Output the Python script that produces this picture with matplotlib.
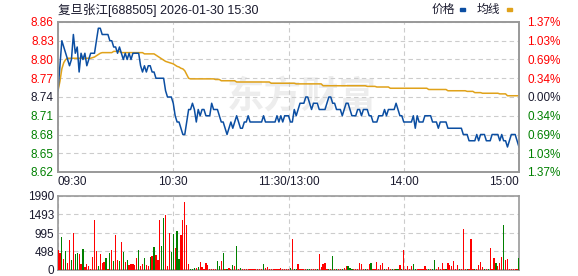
import matplotlib
matplotlib.use("Agg")
import matplotlib.pyplot as plt
from matplotlib.patches import Rectangle

plt.rcParams["font.family"] = ["Liberation Sans", "Noto Sans CJK SC", "DejaVu Sans"]

TITLE = "复旦张江[688505] 2026-01-30 15:30"
PREV_CLOSE = 8.74

# minute prices 09:30 .. 11:30, 13:01 .. 15:00 (241 points)
price = [
    8.75, 8.79, 8.83, 8.82, 8.81, 8.80, 8.79, 8.80, 8.84, 8.81,
    8.82, 8.78, 8.81, 8.80, 8.81, 8.79, 8.80, 8.81, 8.81, 8.81,
    8.83, 8.85, 8.85, 8.84, 8.84, 8.84, 8.84, 8.83, 8.83, 8.82,
    8.82, 8.81, 8.82, 8.81, 8.80, 8.81, 8.80, 8.81, 8.80, 8.81,
    8.81, 8.81, 8.81, 8.79, 8.78, 8.79, 8.78, 8.79, 8.79, 8.78,
    8.78, 8.77, 8.77, 8.77, 8.77, 8.77, 8.75, 8.74, 8.74, 8.74,
    8.73, 8.71, 8.70, 8.70, 8.69, 8.68, 8.68, 8.70, 8.72, 8.72,
    8.73, 8.72, 8.70, 8.72, 8.71, 8.72, 8.72, 8.71, 8.71, 8.71,
    8.73, 8.72, 8.72, 8.72, 8.71, 8.70, 8.70, 8.69, 8.68, 8.69,
    8.70, 8.69, 8.70, 8.71, 8.70, 8.69, 8.69, 8.70, 8.70, 8.71,
    8.70, 8.70, 8.70, 8.70, 8.70, 8.70, 8.70, 8.71, 8.70, 8.70,
    8.70, 8.70, 8.70, 8.70, 8.71, 8.70, 8.71, 8.70, 8.71, 8.71,
    8.71, 8.70, 8.70, 8.72, 8.71, 8.72, 8.73, 8.73, 8.73, 8.74,
    8.74, 8.73, 8.72, 8.73, 8.73, 8.73, 8.72, 8.72, 8.72, 8.72,
    8.73, 8.74, 8.74, 8.73, 8.73, 8.72, 8.72, 8.72, 8.71, 8.72,
    8.73, 8.73, 8.72, 8.71, 8.71, 8.71, 8.72, 8.72, 8.71, 8.72,
    8.72, 8.72, 8.71, 8.71, 8.70, 8.70, 8.70, 8.71, 8.71, 8.71,
    8.72, 8.71, 8.72, 8.72, 8.72, 8.72, 8.73, 8.72, 8.71, 8.71,
    8.70, 8.70, 8.70, 8.70, 8.70, 8.71, 8.69, 8.71, 8.70, 8.70,
    8.70, 8.71, 8.71, 8.71, 8.71, 8.70, 8.70, 8.70, 8.69, 8.70,
    8.70, 8.70, 8.70, 8.69, 8.69, 8.69, 8.69, 8.69, 8.69, 8.69,
    8.69, 8.68, 8.68, 8.68, 8.67, 8.67, 8.67, 8.67, 8.68, 8.67,
    8.68, 8.68, 8.68, 8.67, 8.67, 8.67, 8.68, 8.68, 8.68, 8.68,
    8.67, 8.68, 8.67, 8.67, 8.66, 8.67, 8.68, 8.68, 8.68, 8.67,
    8.66,
]

# average price line (均线)
avg_price = [
    8.750, 8.765, 8.785, 8.795, 8.800, 8.802, 8.802, 8.802, 8.802, 8.802,
    8.802, 8.802, 8.802, 8.802, 8.802, 8.802, 8.802, 8.802, 8.803, 8.804,
    8.806, 8.808, 8.810, 8.811, 8.811, 8.811, 8.811, 8.811, 8.811, 8.813,
    8.813, 8.813, 8.813, 8.811, 8.811, 8.811, 8.811, 8.811, 8.811, 8.811,
    8.811, 8.811, 8.811, 8.811, 8.811, 8.809, 8.809, 8.809, 8.809, 8.809,
    8.809, 8.807, 8.805, 8.803, 8.801, 8.799, 8.797, 8.796, 8.795, 8.794,
    8.793, 8.791, 8.789, 8.788, 8.786, 8.785, 8.782, 8.776, 8.770, 8.769,
    8.769, 8.769, 8.769, 8.769, 8.769, 8.769, 8.769, 8.769, 8.769, 8.769,
    8.769, 8.769, 8.768, 8.768, 8.768, 8.766, 8.766, 8.766, 8.766, 8.766,
    8.766, 8.766, 8.766, 8.764, 8.764, 8.764, 8.764, 8.764, 8.764, 8.764,
    8.764, 8.764, 8.764, 8.764, 8.764, 8.764, 8.764, 8.764, 8.764, 8.764,
    8.764, 8.762, 8.762, 8.762, 8.762, 8.762, 8.762, 8.762, 8.762, 8.762,
    8.762, 8.762, 8.762, 8.762, 8.761, 8.761, 8.761, 8.761, 8.761, 8.761,
    8.761, 8.761, 8.761, 8.761, 8.761, 8.761, 8.761, 8.761, 8.758, 8.758,
    8.758, 8.758, 8.758, 8.758, 8.758, 8.758, 8.758, 8.758, 8.758, 8.758,
    8.758, 8.758, 8.758, 8.758, 8.758, 8.758, 8.758, 8.758, 8.758, 8.758,
    8.758, 8.757, 8.757, 8.757, 8.757, 8.757, 8.756, 8.756, 8.756, 8.756,
    8.756, 8.756, 8.756, 8.754, 8.754, 8.754, 8.754, 8.754, 8.754, 8.754,
    8.754, 8.754, 8.754, 8.754, 8.754, 8.754, 8.754, 8.754, 8.754, 8.754,
    8.754, 8.754, 8.754, 8.752, 8.752, 8.752, 8.752, 8.752, 8.752, 8.752,
    8.752, 8.752, 8.752, 8.750, 8.750, 8.750, 8.750, 8.750, 8.750, 8.750,
    8.750, 8.750, 8.750, 8.749, 8.749, 8.749, 8.749, 8.747, 8.747, 8.747,
    8.747, 8.746, 8.746, 8.746, 8.746, 8.746, 8.746, 8.746, 8.746, 8.746,
    8.745, 8.745, 8.745, 8.745, 8.742, 8.742, 8.742, 8.742, 8.742, 8.742,
    8.742,
]

# volume per minute
volume = [
    545, 470, 875, 300, 520, 195, 810, 275, 1000, 435,
    470, 435, 170, 570, 70, 170, 100, 30, 355, 1345,
    510, 115, 435, 180, 220, 330, 40, 455, 545, 240,
    945, 270, 250, 760, 490, 215, 260, 125, 170, 170,
    125, 330, 545, 100, 170, 310, 135, 115, 355, 385,
    625, 410, 270, 1345, 650, 1400, 1480, 100, 1000, 490,
    970, 600, 1060, 285, 945, 1345, 1830, 1215, 170, 35,
    25, 60, 50, 70, 205, 90, 40, 185, 135, 30,
    30, 30, 30, 240, 115, 240, 465, 30, 30, 60,
    30, 135, 115, 650, 30, 60, 25, 25, 25, 25,
    25, 25, 25, 25, 25, 25, 25, 160, 55, 90,
    35, 35, 25, 25, 25, 25, 55, 30, 25, 25,
    25, 55, 840, 30, 30, 170, 30, 30, 30, 30,
    30, 30, 30, 30, 30, 35, 435, 70, 170, 195,
    30, 30, 30, 385, 30, 30, 30, 30, 30, 60,
    100, 115, 60, 30, 25, 25, 30, 195, 170, 30,
    30, 30, 170, 195, 30, 30, 220, 30, 145, 195,
    30, 30, 90, 30, 30, 30, 30, 30, 145, 30,
    545, 30, 115, 30, 115, 170, 30, 30, 30, 30,
    30, 115, 30, 30, 30, 30, 275, 25, 90, 30,
    195, 30, 30, 195, 145, 115, 250, 30, 145, 30,
    30, 1105, 30, 30, 30, 840, 30, 30, 30, 145,
    220, 90, 30, 30, 30, 600, 30, 330, 195, 115,
    195, 355, 1215, 275, 300, 30, 30, 30, 30, 30,
    330,
]

# r = up tick, g = down tick
vol_side = (
    "rrgrgrrgrg" "grrgrrrrrr" "rgrrrgrgrg" "rrgrgrgrrr" "rrgrrgrrgr"
    "grrrggrrrg" "grggrrrrrg" "ggrgrrrrrr" "rrrggrgrgr" "rgrgrgrrrr"
    "rrrrrrrgrr" "rrrrrrrrrr" "r"
    "grggrrrrr" "ggrrrgrrrr" "rgrgrgrrgr" "rgggrrrrrr" "grrgrrrrrr"
    "grrrgrggrg" "rrrrrggrrr" "rrrgrggrrr" "rrgrrrrrrg" "rrrgrrrgrr"
    "rrgrgrrrgr" "rrgrrrrrrr" "g"
)

price_ticks = [8.62, 8.65, 8.68, 8.71, 8.74, 8.77, 8.80, 8.83, 8.86]
pct_labels = ["1.37%", "1.03%", "0.69%", "0.34%", "0.00%",
              "0.34%", "0.69%", "1.03%", "1.37%"]
vol_ticks = [0, 498, 995, 1493, 1990]
time_pos = [0, 60, 120, 180, 240]
time_labels = ["09:30", "10:30", "11:30/13:00", "14:00", "15:00"]

RED = "#ff0000"
GREEN = "#008000"
BLUE = "#0b4ea2"
GOLD = "#e0a21a"
SPINE = "#999999"
GRID = "#cccccc"

W, H = 578, 276
fig = plt.figure(figsize=(W / 100, H / 100), dpi=100)

def box(l, t, r, b):
    return [l / W, 1 - b / H, (r - l) / W, (b - t) / H]

ax = fig.add_axes(box(58, 22, 519, 172))
axv = fig.add_axes(box(58, 196, 519, 270))

def tick_color(v):
    if v > PREV_CLOSE + 1e-9:
        return RED
    if v < PREV_CLOSE - 1e-9:
        return GREEN
    return "#1a1a2e"

# watermark
ax.text(0.53, 0.49, "东方财富", transform=ax.transAxes, fontsize=27,
        fontweight="bold", color="#ededed", ha="center", va="center", zorder=0)

xs = list(range(len(price)))
ax.plot(xs, avg_price, color=GOLD, lw=1.1, zorder=3)
ax.plot(xs, price, color=BLUE, lw=1.1, zorder=4)

ax.set_xlim(0, 240)
ax.set_ylim(8.62, 8.86)
ax.set_yticks(price_ticks)
ax.set_yticklabels([f"{v:.2f}" for v in price_ticks], fontsize=8.5)
for lbl, v in zip(ax.get_yticklabels(), price_ticks):
    lbl.set_color(tick_color(v))
ax.set_xticks(time_pos)
ax.set_xticklabels(time_labels, fontsize=8.5, color="#1a1a2e")
for lbl, ha in zip(ax.get_xticklabels(), ["left", "center", "center", "center", "right"]):
    lbl.set_ha(ha)
ax.tick_params(length=0, pad=3)
ax.grid(True, color=GRID, ls=(0, (4, 3)), lw=0.8)

axr = ax.twinx()
axr.set_ylim(8.62, 8.86)
axr.set_yticks(price_ticks)
axr.set_yticklabels(pct_labels[::-1], fontsize=8.5)
for lbl, v in zip(axr.get_yticklabels(), price_ticks):
    lbl.set_color(tick_color(v))
axr.tick_params(length=0, pad=6)

colors = [RED if s == "r" else GREEN for s in vol_side]
axv.bar(xs, volume, width=0.65, color=colors, linewidth=0, zorder=3)
axv.set_xlim(0, 240)
axv.set_ylim(0, 1990)
axv.set_yticks(vol_ticks)
axv.set_yticklabels([str(v) for v in vol_ticks], fontsize=8.5, color="#1a1a2e")
axv.set_xticks(time_pos)
axv.set_xticklabels([])
axv.tick_params(length=0, pad=3)
axv.grid(True, color=GRID, ls=(0, (4, 3)), lw=0.8)

for a in (ax, axr, axv):
    for s in a.spines.values():
        s.set_color(SPINE)
        s.set_linewidth(1.2)

# header
fig.text(58 / W, 1 - 10 / H, TITLE, fontsize=9, color="#1a1a2e", va="center", ha="left")
fig.text(432 / W, 1 - 10 / H, "价格", fontsize=8.5, color="#1a1a2e", va="center", ha="left")
fig.add_artist(Rectangle((460 / W, 1 - 11 / H), 5 / W, 3 / H, color=BLUE,
                         transform=fig.transFigure))
fig.text(477 / W, 1 - 10 / H, "均线", fontsize=8.5, color="#1a1a2e", va="center", ha="left")
fig.add_artist(Rectangle((507 / W, 1 - 11 / H), 5 / W, 3 / H, color=GOLD,
                         transform=fig.transFigure))

fig.savefig("out.png", dpi=100)
